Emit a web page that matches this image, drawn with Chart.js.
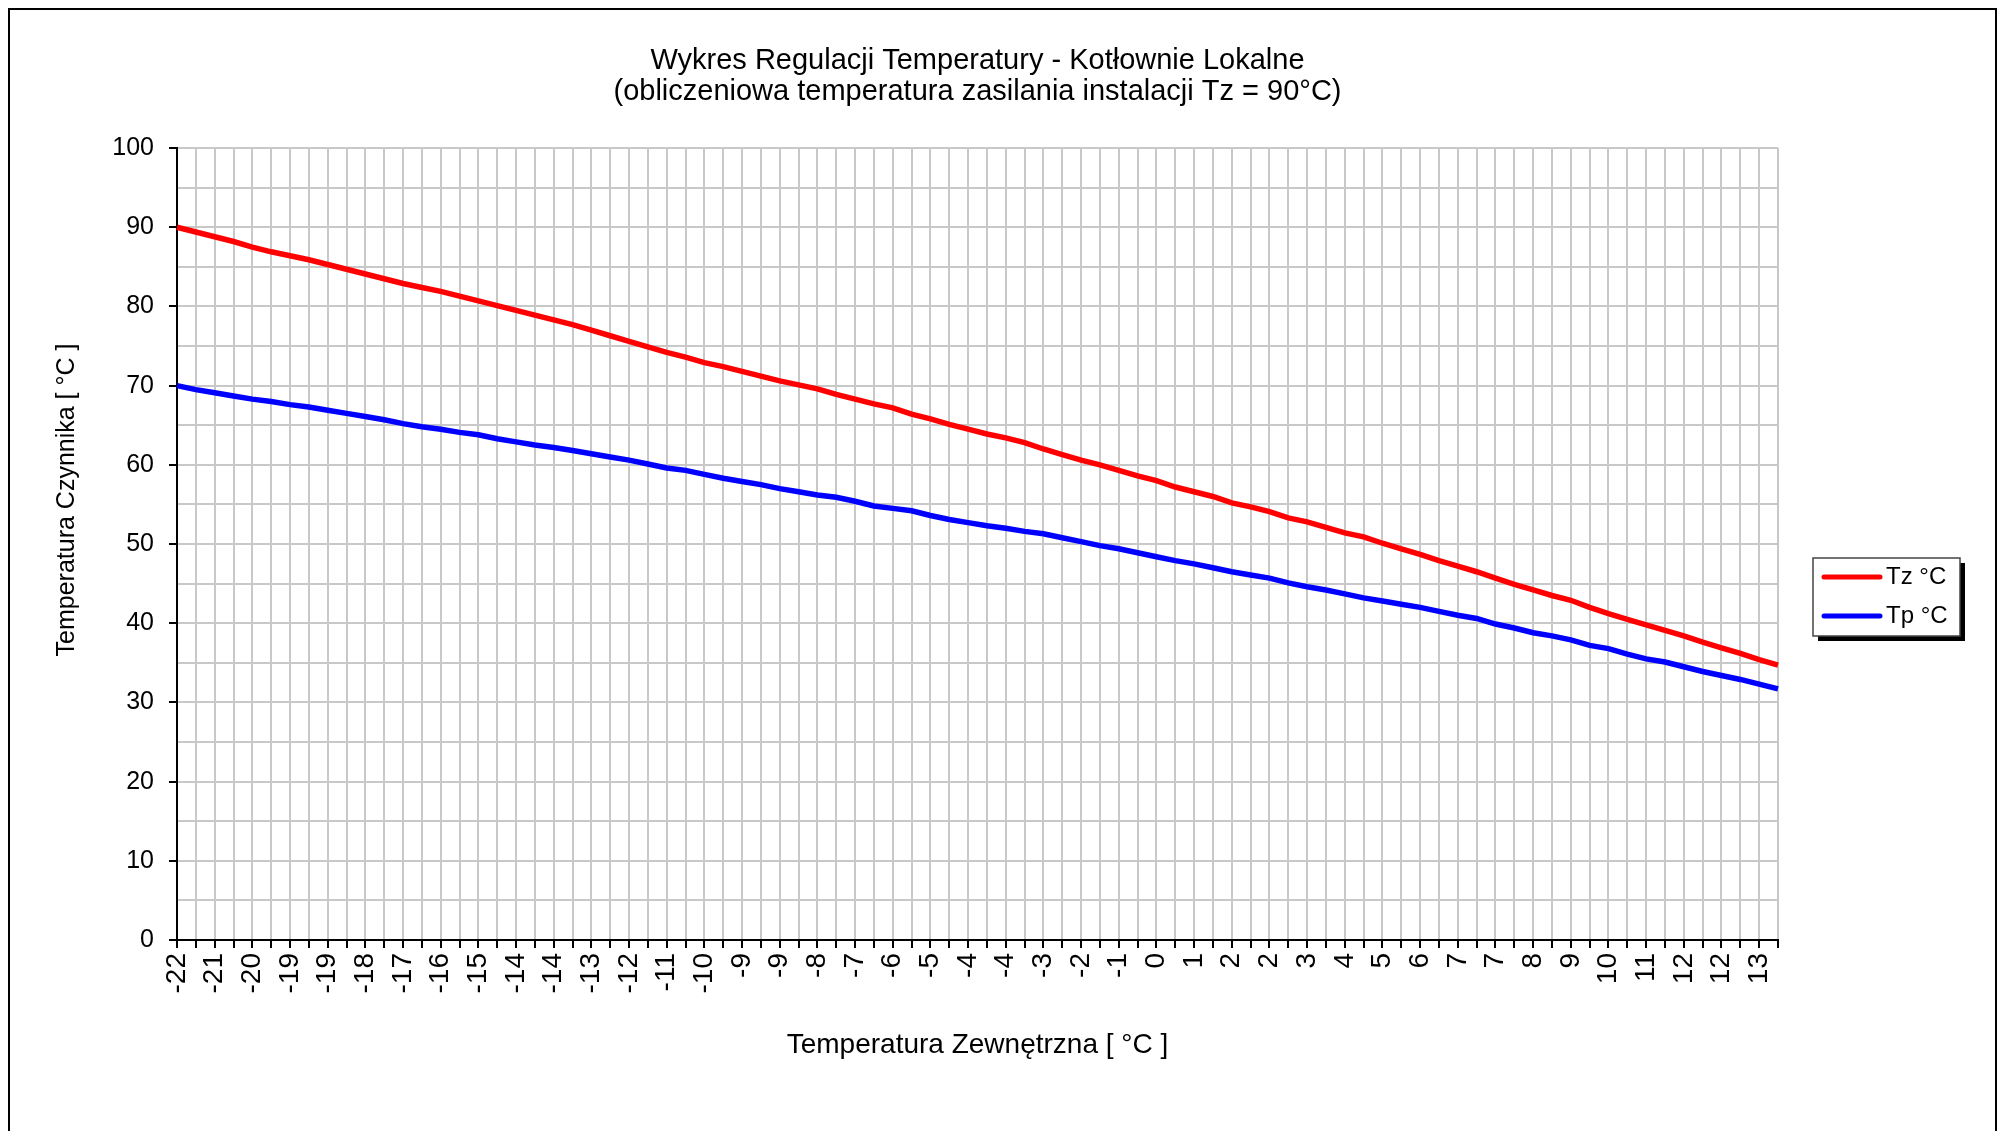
<!DOCTYPE html>
<html>
<head>
<meta charset="utf-8">
<script src="https://cdn.jsdelivr.net/npm/chart.js@4.4.1/dist/chart.umd.min.js"></script>
<style>
  html, body { margin: 0; padding: 0; background: #fff; }
  canvas { display: block; }
</style>
</head>
<body>
<canvas id="chart" width="2002" height="1131"></canvas>
<script>
const FONT = '"Liberation Sans", Arial, sans-serif';

const titleLines = [
  "Wykres Regulacji Temperatury - Kotłownie Lokalne",
  "(obliczeniowa temperatura zasilania instalacji Tz = 90°C)"
];
const xTitle = "Temperatura Zewnętrzna [ °C ]";
const yTitle = "Temperatura Czynnika [ °C ]";

// outdoor temperature categories, only every other one is labelled
const categories = [
  "-22", "", "-21", "", "-20", "", "-19", "", "-19", "",
  "-18", "", "-17", "", "-16", "", "-15", "", "-14", "",
  "-14", "", "-13", "", "-12", "", "-11", "", "-10", "",
  "-9", "", "-9", "", "-8", "", "-7", "", "-6", "",
  "-5", "", "-4", "", "-4", "", "-3", "", "-2", "",
  "-1", "", "0", "", "1", "", "2", "", "2", "",
  "3", "", "4", "", "5", "", "6", "", "7", "",
  "7", "", "8", "", "9", "", "10", "", "11", "",
  "12", "", "12", "", "13", ""
];

// supply temperature
const tzValues = [
  90.0, 89.4, 88.8, 88.2, 87.5, 86.9, 86.4, 85.9, 85.3, 84.7,
  84.1, 83.5, 82.9, 82.4, 81.9, 81.3, 80.7, 80.1, 79.5, 78.9,
  78.3, 77.7, 77.0, 76.3, 75.6, 74.9, 74.2, 73.6, 72.9, 72.4,
  71.8, 71.2, 70.6, 70.1, 69.6, 68.9, 68.3, 67.7, 67.2, 66.4,
  65.8, 65.1, 64.5, 63.9, 63.4, 62.8, 62.0, 61.3, 60.6, 60.0,
  59.3, 58.6, 58.0, 57.2, 56.6, 56.0, 55.2, 54.7, 54.1, 53.3,
  52.8, 52.1, 51.4, 50.9, 50.1, 49.4, 48.7, 47.9, 47.2, 46.5,
  45.7, 44.9, 44.2, 43.5, 42.9, 42.0, 41.2, 40.5, 39.8, 39.1,
  38.4, 37.6, 36.9, 36.2, 35.4, 34.7
];

// return temperature
const tpValues = [
  70.0, 69.5, 69.1, 68.7, 68.3, 68.0, 67.6, 67.3, 66.9, 66.5,
  66.1, 65.7, 65.2, 64.8, 64.5, 64.1, 63.8, 63.3, 62.9, 62.5,
  62.2, 61.8, 61.4, 61.0, 60.6, 60.1, 59.6, 59.3, 58.8, 58.3,
  57.9, 57.5, 57.0, 56.6, 56.2, 55.9, 55.4, 54.8, 54.5, 54.2,
  53.6, 53.1, 52.7, 52.3, 52.0, 51.6, 51.3, 50.8, 50.3, 49.8,
  49.4, 48.9, 48.4, 47.9, 47.5, 47.0, 46.5, 46.1, 45.7, 45.1,
  44.6, 44.2, 43.7, 43.2, 42.8, 42.4, 42.0, 41.5, 41.0, 40.6,
  39.9, 39.4, 38.8, 38.4, 37.9, 37.2, 36.8, 36.1, 35.5, 35.1,
  34.5, 33.9, 33.4, 32.9, 32.3, 31.7
];

// frame, rotated y title and the boxed legend
const extras = {
  id: "extras",
  beforeDraw(chart) {
    const ctx = chart.ctx;
    ctx.save();
    ctx.fillStyle = "#fff";
    ctx.fillRect(0, 0, chart.width, chart.height);
    ctx.strokeStyle = "#000";
    ctx.lineWidth = 2;
    ctx.strokeRect(9, 9, 1987, 1200);
    ctx.restore();
  },
  afterDraw(chart) {
    const ctx = chart.ctx;
    ctx.save();
    ctx.translate(67, 500);
    ctx.rotate(-Math.PI / 2);
    ctx.fillStyle = "#000";
    ctx.font = "25px " + FONT;
    ctx.textAlign = "center";
    ctx.textBaseline = "middle";
    ctx.fillText(yTitle, 0, 0);
    ctx.restore();

    const bx = 1813, by = 558, bw = 147, bh = 78;
    ctx.save();
    ctx.fillStyle = "#000";
    ctx.fillRect(bx + 5, by + 5, bw, bh);
    ctx.fillStyle = "#fff";
    ctx.fillRect(bx, by, bw, bh);
    ctx.strokeStyle = "#444";
    ctx.lineWidth = 1.5;
    ctx.strokeRect(bx, by, bw, bh);
    chart.data.datasets.forEach((ds, i) => {
      const y = by + 19 + i * 39;
      ctx.strokeStyle = ds.borderColor;
      ctx.lineWidth = 5;
      ctx.lineCap = "round";
      ctx.beginPath();
      ctx.moveTo(bx + 11, y);
      ctx.lineTo(bx + 67, y);
      ctx.stroke();
      ctx.fillStyle = "#000";
      ctx.font = "24px " + FONT;
      ctx.textBaseline = "middle";
      ctx.fillText(ds.label, bx + 73, y);
    });
    ctx.restore();
  }
};

new Chart(document.getElementById("chart"), {
  type: "line",
  data: {
    labels: categories,
    datasets: [
      {
        label: "Tz °C",
        data: tzValues,
        borderColor: "#ff0000",
        borderWidth: 5.5,
        pointRadius: 0,
        tension: 0,
        fill: false
      },
      {
        label: "Tp °C",
        data: tpValues,
        borderColor: "#0000ff",
        borderWidth: 5.5,
        pointRadius: 0,
        tension: 0,
        fill: false
      }
    ]
  },
  options: {
    responsive: false,
    animation: false,
    devicePixelRatio: 1,
    layout: { padding: { left: 0, right: 224, top: 0, bottom: 0 } },
    plugins: {
      legend: { display: false },
      tooltip: { enabled: false },
      title: {
        display: true,
        fullSize: false,
        text: titleLines,
        color: "#000",
        font: { family: FONT, size: 29, weight: "normal", lineHeight: 1.07 },
        padding: { top: 45, bottom: 41 }
      }
    },
    scales: {
      x: {
        type: "category",
        offset: false,
        grid: {
          color: "#c8c8c8",
          lineWidth: 2,
          tickColor: "#000",
          tickWidth: 2,
          tickLength: 8
        },
        border: { color: "#000", width: 2 },
        ticks: {
          autoSkip: false,
          minRotation: 90,
          maxRotation: 90,
          padding: 5,
          color: "#000",
          font: { family: FONT, size: 28 },
          callback: (v, i) => categories[i]
        },
        title: {
          display: true,
          text: xTitle,
          color: "#000",
          font: { family: FONT, size: 28 },
          padding: { top: 0, bottom: 69 }
        },
        afterFit: s => { s.height = 191; }
      },
      y: {
        min: 0,
        max: 100,
        grid: {
          color: "#c8c8c8",
          lineWidth: 2,
          tickLength: 8,
          tickWidth: 2,
          tickColor: c => (c.tick && c.tick.value % 10 === 0 ? "#000" : "rgba(0,0,0,0)")
        },
        border: { color: "#000", width: 2 },
        ticks: {
          stepSize: 5,
          autoSkip: false,
          padding: 15,
          color: "#000",
          font: { family: FONT, size: 25 },
          callback: v => (v % 10 === 0 ? v : "")
        },
        afterFit: s => { s.width = 177; }
      }
    }
  },
  plugins: [extras]
});
</script>
</body>
</html>
